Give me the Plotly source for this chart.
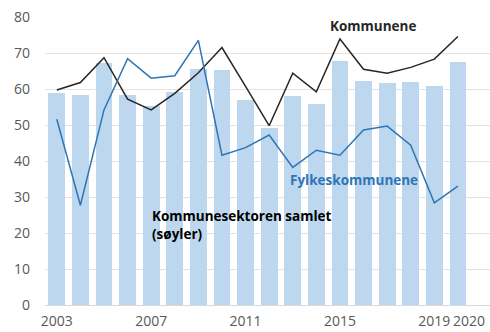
import plotly.graph_objects as go

years = list(range(2003, 2021))
samlet = [58.9, 58.4, 67.3, 58.4, 55.4, 59.2, 65.6, 65.4, 57.0, 49.2,
          58.1, 55.7, 67.7, 62.3, 61.7, 62.0, 60.9, 67.4]
kommunene = [59.7, 61.8, 68.7, 57.2, 54.2, 58.8, 64.5, 71.5, 60.7, 49.8,
             64.4, 59.2, 73.9, 65.5, 64.4, 66.0, 68.3, 74.6]
fylkeskommunene = [51.6, 27.7, 54.2, 68.4, 63.0, 63.7, 73.5, 41.6, 43.7, 47.2,
                   38.2, 43.0, 41.6, 48.6, 49.7, 44.4, 28.4, 33.0]
x_ticks = [2003, 2007, 2011, 2015, 2019]
last_year = years[-1]
y_ticks = [0, 10, 20, 30, 40, 50, 60, 70, 80]

FONT = "Open Sans"
BAR = "#BDD7EE"
DARK = "#262626"
BLUE = "#2E75B6"
TICK = "#595959"

fig = go.Figure()
fig.add_trace(go.Bar(x=years, y=samlet, width=0.71, marker_color=BAR,
                     marker_line_width=0, name="Kommunesektoren samlet"))
fig.add_trace(go.Scatter(x=years, y=kommunene, mode="lines",
                         line=dict(color=DARK, width=1.5), name="Kommunene"))
fig.add_trace(go.Scatter(x=years, y=fylkeskommunene, mode="lines",
                         line=dict(color=BLUE, width=1.5), name="Fylkeskommunene"))

fig.add_annotation(x=2016.4, y=77.6, xref="x", yref="y", text="<b>Kommunene</b>",
                   showarrow=False, font=dict(family=FONT, size=13.5, color=DARK))
fig.add_annotation(x=2015.6, y=34.7, xref="x", yref="y", text="<b>Fylkeskommunene</b>",
                   showarrow=False, font=dict(family=FONT, size=13.5, color=BLUE))
fig.add_annotation(x=2006.95, y=22.3, xref="x", yref="y",
                   text="<b>Kommunesektoren samlet<br>(søyler)</b>",
                   showarrow=False, xanchor="left", align="left",
                   font=dict(family=FONT, size=13.5, color="#000000"))

# last year label, nudged right so it clears the 2019 label
fig.add_annotation(x=last_year, y=0, xref="x", yref="paper", text=str(last_year),
                   showarrow=False, xanchor="center", yanchor="top",
                   xshift=11, yshift=-5, borderpad=0,
                   font=dict(family=FONT, size=14, color=TICK))

fig.update_layout(
    width=490, height=332,
    margin=dict(l=45, r=0, t=17, b=27),
    plot_bgcolor="white", paper_bgcolor="white",
    showlegend=False, bargap=0,
    font=dict(family=FONT, size=13, color=TICK),
)
fig.update_xaxes(range=[2002.5, 2021.36], tickmode="array", tickvals=x_ticks,
                 ticktext=[str(v) for v in x_ticks], tickangle=0, showgrid=False,
                 showline=False, ticks="", zeroline=False, automargin=False,
                 ticklabelstandoff=6,
                 tickfont=dict(family=FONT, size=14, color=TICK))
fig.update_yaxes(range=[0, 80], tickmode="array", tickvals=y_ticks,
                 showgrid=True, gridcolor="#E3E3E3", gridwidth=1,
                 zeroline=True, zerolinecolor="#D9D9D9", zerolinewidth=1,
                 ticks="", ticklabelstandoff=14, automargin=False,
                 tickfont=dict(family=FONT, size=14, color=TICK))

fig.write_html("out.html")
